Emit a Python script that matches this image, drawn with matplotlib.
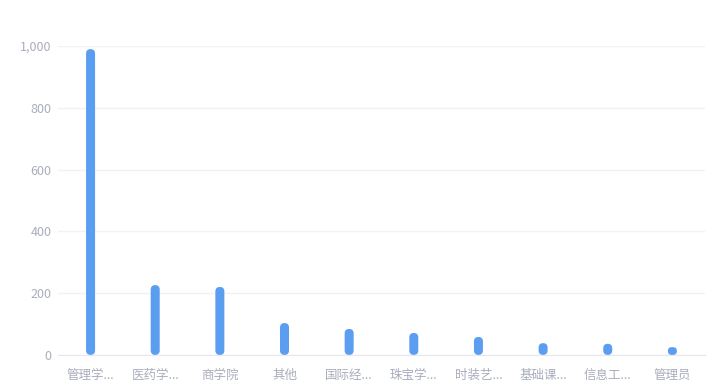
import matplotlib.pyplot as plt
import numpy as np
from matplotlib.patches import FancyBboxPatch

plt.rcParams['font.family'] = ['Noto Sans CJK SC', 'DejaVu Sans']

categories = ['管理学...', '医药学...', '商学院', '其他', '国际经...', '珠宝学...',
              '时装艺...', '基础课...', '信息工...', '管理员']
values = [990, 226, 220, 103, 84, 71, 58, 38, 36, 25]
yticks = [0, 200, 400, 600, 800, 1000]

fig = plt.figure(figsize=(7.28, 3.9), dpi=100)
ax = fig.add_axes([0.08, 0.09, 0.888, 0.792])

x = np.arange(len(categories))
ax.set_xlim(-0.5, len(categories) - 0.5)
ax.set_ylim(0, 1000)

# 9px wide bars with fully rounded ends
fig.canvas.draw()
(px0, py0), (px1, py1) = ax.transData.transform([(0, 0), (1, 1000)])
xu = 1 / (px1 - px0)        # x data units per px
yu = 1000 / (py1 - py0)     # y data units per px
aspect = yu / xu
w = 9 * xu
for xi, v in zip(x, values):
    rs = min(w / 2, v / aspect / 2)
    p = FancyBboxPatch((xi - w / 2, 0), w, v,
                       boxstyle=f'round,pad=0,rounding_size={rs}',
                       mutation_aspect=aspect, fc='#5b9df0', ec='none', zorder=3)
    ax.add_patch(p)

ax.set_yticks(yticks)
ax.set_yticklabels([f'{t:,}' for t in yticks])
ax.set_xticks(x)
ax.set_xticklabels(categories)
ax.grid(axis='y', color='#f1f2f5', lw=1)
ax.set_axisbelow(True)
for s in ['top', 'right', 'left']:
    ax.spines[s].set_visible(False)
ax.spines['bottom'].set_color('#e6e8ee')
ax.tick_params(length=0, colors='#a9adbd', labelsize=9)
ax.tick_params(axis='x', pad=10)
ax.tick_params(axis='y', pad=5)

fig.savefig('out.png', dpi=100)
